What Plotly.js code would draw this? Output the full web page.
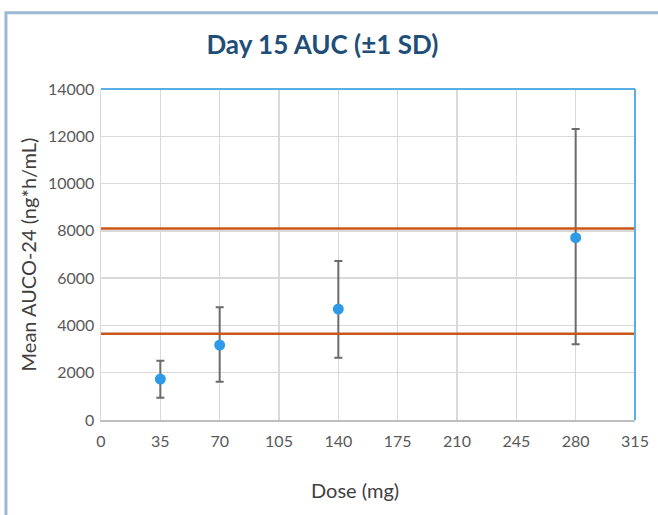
<!DOCTYPE html>
<html>
<head>
<meta charset="utf-8">
<script src="https://cdn.plot.ly/plotly-3.0.1.min.js"></script>
<style>html,body{margin:0;padding:0;background:#fff;}#chart{width:658px;height:515px;}</style>
</head>
<body>
<div id="chart"></div>
<script>
const doses = [35, 70, 140, 280];
const meanAUC = [1730, 3170, 4690, 7710];
const sdUpper = [780, 1600, 2030, 4600];
const sdLower = [790, 1550, 2060, 4510];
const refLow = 3650;
const refHigh = 8100;
const xTicks = [0, 35, 70, 105, 140, 175, 210, 245, 280, 315];
const yTicks = [0, 2000, 4000, 6000, 8000, 10000, 12000, 14000];

const fontFam = 'Lato, "Open Sans", sans-serif';

const traces = [{
  x: doses, y: meanAUC, type: 'scatter', mode: 'markers',
  marker: {color: '#2f9be6', size: 11},
  error_y: {type: 'data', symmetric: false, array: sdUpper, arrayminus: sdLower,
            color: '#6b6b6b', thickness: 2, width: 4},
  showlegend: false, hoverinfo: 'x+y'
}];

const layout = {
  width: 658, height: 515,
  margin: {l: 101, r: 23, t: 89, b: 95},
  paper_bgcolor: '#fff', plot_bgcolor: '#fff',
  title: {text: '<b>Day 15 AUC (±1 SD)</b>', x: 0.49, xanchor: 'center', y: 0.912, yanchor: 'middle',
          font: {family: fontFam, size: 26, color: '#1f4e79'}},
  xaxis: {range: [0, 315], tickvals: xTicks, ticktext: xTicks.map(String),
          showgrid: true, gridcolor: '#d9d9d9', gridwidth: 1.5, zeroline: false,
          showline: true, linecolor: '#bfbfbf', linewidth: 1.5, ticks: '',
          ticklabelstandoff: 6,
          tickfont: {family: fontFam, size: 16, color: '#595959'}},
  yaxis: {range: [0, 14000], tickvals: yTicks, ticktext: yTicks.map(String),
          showgrid: true, gridcolor: '#d9d9d9', gridwidth: 1.5, zeroline: false,
          showline: true, linecolor: '#d9d9d9', linewidth: 1.5, ticks: '',
          ticklabelstandoff: 2,
          tickfont: {family: fontFam, size: 16, color: '#595959'},
          title: {text: 'Mean AUCO-24 (ng*h/mL)', font: {family: fontFam, size: 20, color: '#404040'}, standoff: 6}},
  annotations: [
    {text: 'Dose (mg)', xref: 'paper', yref: 'paper', x: 0.476, y: -0.21,
     xanchor: 'center', yanchor: 'middle', showarrow: false,
     font: {family: fontFam, size: 20, color: '#404040'}}
  ],
  shapes: [
    {type: 'line', xref: 'paper', yref: 'y', x0: 0, x1: 1, y0: refHigh, y1: refHigh,
     line: {color: '#c8581a', width: 2.5}},
    {type: 'line', xref: 'paper', yref: 'y', x0: 0, x1: 1, y0: refLow, y1: refLow,
     line: {color: '#c8581a', width: 2.5}},
    {type: 'line', xref: 'paper', yref: 'paper', x0: 0, x1: 1, y0: 1, y1: 1,
     line: {color: '#5aaee6', width: 2}},
    {type: 'line', xref: 'paper', yref: 'paper', x0: 1, x1: 1, y0: 0, y1: 1,
     line: {color: '#5aaee6', width: 2}},
    {type: 'rect', xref: 'paper', yref: 'paper', x0: -0.178, x1: 1.2, y0: -0.4, y1: 1.23,
     line: {color: '#9db8d2', width: 3}, layer: 'below'}
  ]
};

Plotly.newPlot('chart', traces, layout, {displayModeBar: false, staticPlot: true});
</script>
</body>
</html>
